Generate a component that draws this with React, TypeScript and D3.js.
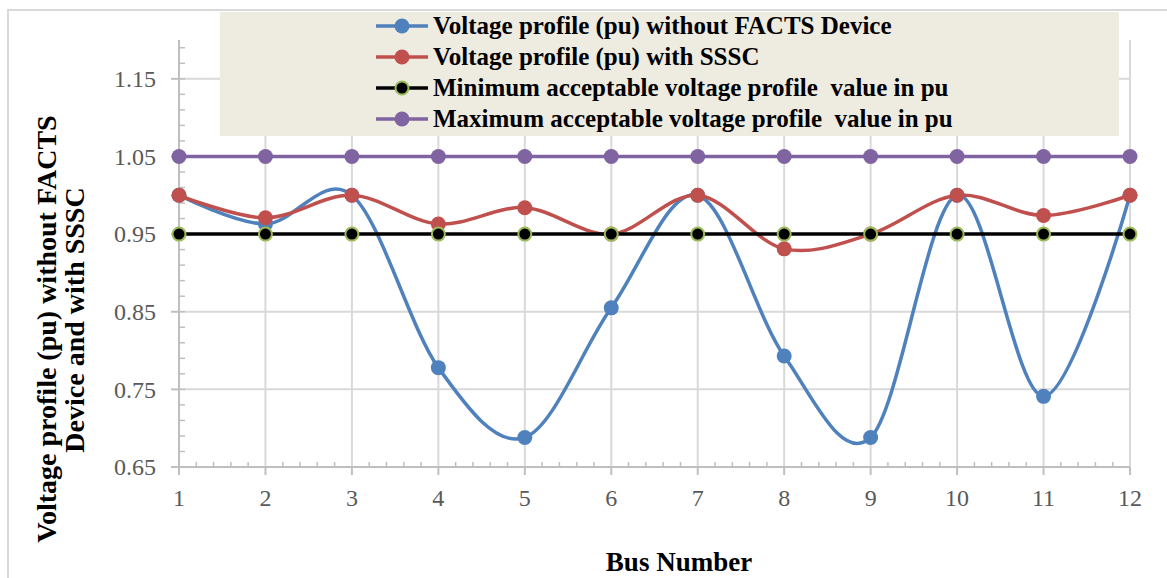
import React from "react";
import * as d3 from "d3";

const buses = [1, 2, 3, 4, 5, 6, 7, 8, 9, 10, 11, 12];
const withoutFacts = [1.0, 0.963, 1.0, 0.778, 0.688, 0.855, 1.0, 0.793, 0.688, 1.0, 0.741, 1.0];
const withSSSC = [1.0, 0.971, 1.0, 0.963, 0.984, 0.95, 1.0, 0.931, 0.95, 1.0, 0.974, 1.0];
const minAcceptable = [0.95, 0.95, 0.95, 0.95, 0.95, 0.95, 0.95, 0.95, 0.95, 0.95, 0.95, 0.95];
const maxAcceptable = [1.05, 1.05, 1.05, 1.05, 1.05, 1.05, 1.05, 1.05, 1.05, 1.05, 1.05, 1.05];
const yTicks = [0.65, 0.75, 0.85, 0.95, 1.05, 1.15];
const seriesNames = [
  "Voltage profile (pu) without FACTS Device",
  "Voltage profile (pu) with SSSC",
  "Minimum acceptable voltage profile  value in pu",
  "Maximum acceptable voltage profile  value in pu",
];

const W = 1167;
const H = 578;
const left = 179, right = 1130, top = 40, bottom = 467;

export default function App() {
  const x = d3.scaleLinear().domain([1, 12]).range([left, right]);
  const y = d3.scaleLinear().domain([0.65, 1.2]).range([bottom, top]);
  const line = d3
    .line<[number, number]>()
    .x((d) => x(d[0]))
    .y((d) => y(d[1]))
    .curve(d3.curveCardinal.tension(0));
  const straight = d3
    .line<[number, number]>()
    .x((d) => x(d[0]))
    .y((d) => y(d[1]));

  const series = [
    { name: seriesNames[0], values: withoutFacts, color: "#4f81bd", fill: "#4f81bd", stroke: "none", smooth: true },
    { name: seriesNames[1], values: withSSSC, color: "#c0504d", fill: "#c0504d", stroke: "none", smooth: true },
    { name: seriesNames[2], values: minAcceptable, color: "#000000", fill: "#000000", stroke: "#9bbb59", smooth: false },
    { name: seriesNames[3], values: maxAcceptable, color: "#8064a2", fill: "#8064a2", stroke: "none", smooth: false },
  ];

  const minorY = d3.range(0, 28).map((i) => 0.65 + i * 0.02).filter((v) => v <= 1.2001);
  const minorX = d3.range(0, 56).map((i) => 1 + i * 0.2).filter((v) => v <= 12.0001 && Math.abs(v - Math.round(v)) > 0.01);

  const tickFont = "'Liberation Serif', serif";
  return (
    <svg width={W} height={H} style={{ display: "block", position: "absolute", left: 0, top: 0 }}>
      <rect x={0} y={0} width={W} height={H} fill="#ffffff" />
      <rect x={8} y={10} width={W + 20} height={H + 20} fill="#ffffff" stroke="#d9d9d9" strokeWidth={2} />
      {/* gridlines */}
      {buses.map((b) => (
        <line key={"gx" + b} x1={x(b)} x2={x(b)} y1={top} y2={bottom} stroke="#d9d9d9" strokeWidth={2} />
      ))}
      {yTicks.slice(1).map((t) => (
        <line key={"gy" + t} x1={left} x2={right} y1={y(t)} y2={y(t)} stroke="#d9d9d9" strokeWidth={2} />
      ))}
      {/* axes */}
      <line x1={left} x2={left} y1={top} y2={bottom} stroke="#bfbfbf" strokeWidth={2} />
      <line x1={left} x2={right} y1={bottom} y2={bottom} stroke="#bfbfbf" strokeWidth={2} />
      {minorY.map((v) => (
        <line key={"my" + v} x1={left} x2={left + 6} y1={y(v)} y2={y(v)} stroke="#bfbfbf" strokeWidth={1.5} />
      ))}
      {yTicks.map((t) => (
        <line key={"ty" + t} x1={left - 8} x2={left} y1={y(t)} y2={y(t)} stroke="#bfbfbf" strokeWidth={2} />
      ))}
      {minorX.map((v) => (
        <line key={"mx" + v} x1={x(v)} x2={x(v)} y1={bottom - 5} y2={bottom} stroke="#bfbfbf" strokeWidth={1.5} />
      ))}
      {buses.map((b) => (
        <line key={"tx" + b} x1={x(b)} x2={x(b)} y1={bottom} y2={bottom + 8} stroke="#bfbfbf" strokeWidth={2} />
      ))}
      {yTicks.map((t) => (
        <text key={"ly" + t} x={156} y={y(t)} dy="0.35em" textAnchor="end" fontFamily={tickFont} fontSize={24} fill="#595959">
          {t.toFixed(2)}
        </text>
      ))}
      {buses.map((b) => (
        <text key={"lx" + b} x={x(b)} y={506} textAnchor="middle" fontFamily={tickFont} fontSize={24} fill="#595959">
          {b}
        </text>
      ))}
      {/* legend */}
      <rect x={220} y={12} width={899} height={124} fill="#eeebe0" />
      {series.map((s, i) => {
        const ly = 26 + i * 31;
        return (
          <g key={"lg" + i}>
            <line x1={376} x2={428} y1={ly} y2={ly} stroke={s.color} strokeWidth={3.5} />
            <circle cx={402} cy={ly} r={s.stroke === "none" ? 7.5 : 6.5} fill={s.fill} stroke={s.stroke} strokeWidth={2} />
            <text x={433} y={ly} dy="0.33em" fontFamily={tickFont} fontWeight="bold" fontSize={25} fill="#000" style={{ whiteSpace: "pre" }}>
              {s.name}
            </text>
          </g>
        );
      })}
      {/* series */}
      {series.map((s, i) => {
        const pts: [number, number][] = buses.map((b, j) => [b, s.values[j]]);
        return (
          <g key={"s" + i}>
            <path d={(s.smooth ? line : straight)(pts) || ""} fill="none" stroke={s.color} strokeWidth={3.5} />
            {pts.map((p, j) => (
              <circle key={j} cx={x(p[0])} cy={y(p[1])} r={s.stroke === "none" ? 7.5 : 6.5} fill={s.fill} stroke={s.stroke} strokeWidth={2} />
            ))}
          </g>
        );
      })}
      {/* axis titles */}
      <text transform="translate(46,329) rotate(-90)" dy="0.35em" textAnchor="middle" fontFamily={tickFont} fontWeight="bold" fontSize={28} fill="#000">
        Voltage profile (pu) without FACTS
      </text>
      <text transform="translate(74,320) rotate(-90)" dy="0.35em" textAnchor="middle" fontFamily={tickFont} fontWeight="bold" fontSize={28} fill="#000">
        Device and with SSSC
      </text>
      <text x={679} y={571} textAnchor="middle" fontFamily={tickFont} fontWeight="bold" fontSize={27} fill="#000">
        Bus Number
      </text>
    </svg>
  );
}
